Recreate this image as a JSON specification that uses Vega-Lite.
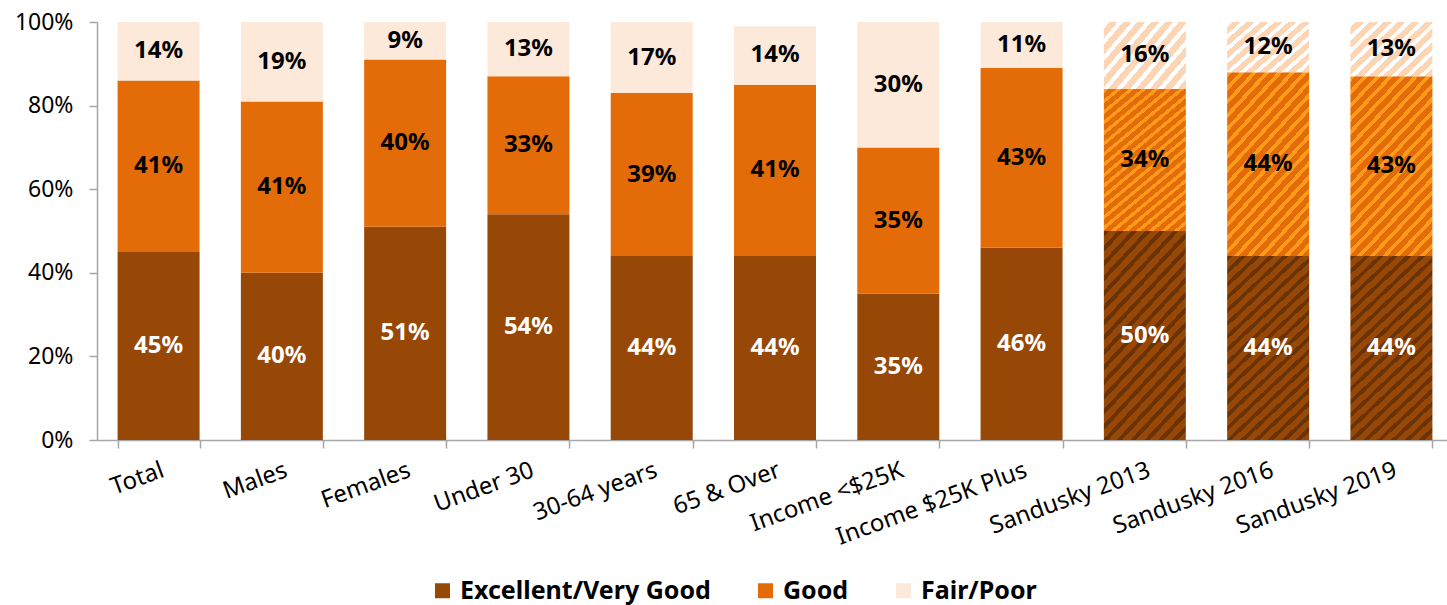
{
"$schema":"https://vega.github.io/schema/vega-lite/v6.json",
"width":1356,"height":418,
"autosize":{"type":"none"},
"padding":{"left":97,"top":22,"right":0,"bottom":165},
"background":"white",
"config":{"view":{"stroke":null},"font":"Noto Sans"},
"data":{"values":[
{"group":"Total","category":"Excellent/Very Good","value":45,"order":1},
{"group":"Total","category":"Good","value":41,"order":2},
{"group":"Total","category":"Fair/Poor","value":14,"order":3},
{"group":"Males","category":"Excellent/Very Good","value":40,"order":1},
{"group":"Males","category":"Good","value":41,"order":2},
{"group":"Males","category":"Fair/Poor","value":19,"order":3},
{"group":"Females","category":"Excellent/Very Good","value":51,"order":1},
{"group":"Females","category":"Good","value":40,"order":2},
{"group":"Females","category":"Fair/Poor","value":9,"order":3},
{"group":"Under 30","category":"Excellent/Very Good","value":54,"order":1},
{"group":"Under 30","category":"Good","value":33,"order":2},
{"group":"Under 30","category":"Fair/Poor","value":13,"order":3},
{"group":"30-64 years","category":"Excellent/Very Good","value":44,"order":1},
{"group":"30-64 years","category":"Good","value":39,"order":2},
{"group":"30-64 years","category":"Fair/Poor","value":17,"order":3},
{"group":"65 & Over","category":"Excellent/Very Good","value":44,"order":1},
{"group":"65 & Over","category":"Good","value":41,"order":2},
{"group":"65 & Over","category":"Fair/Poor","value":14,"order":3},
{"group":"Income <$25K","category":"Excellent/Very Good","value":35,"order":1},
{"group":"Income <$25K","category":"Good","value":35,"order":2},
{"group":"Income <$25K","category":"Fair/Poor","value":30,"order":3},
{"group":"Income $25K Plus","category":"Excellent/Very Good","value":46,"order":1},
{"group":"Income $25K Plus","category":"Good","value":43,"order":2},
{"group":"Income $25K Plus","category":"Fair/Poor","value":11,"order":3},
{"group":"Sandusky 2013","category":"Excellent/Very Good","value":50,"order":1},
{"group":"Sandusky 2013","category":"Good","value":34,"order":2},
{"group":"Sandusky 2013","category":"Fair/Poor","value":16,"order":3},
{"group":"Sandusky 2016","category":"Excellent/Very Good","value":44,"order":1},
{"group":"Sandusky 2016","category":"Good","value":44,"order":2},
{"group":"Sandusky 2016","category":"Fair/Poor","value":12,"order":3},
{"group":"Sandusky 2019","category":"Excellent/Very Good","value":44,"order":1},
{"group":"Sandusky 2019","category":"Good","value":43,"order":2},
{"group":"Sandusky 2019","category":"Fair/Poor","value":13,"order":3}
]},
"transform":[
{"stack":"value","groupby":["group"],"sort":[{"field":"order","order":"ascending"}],"as":["v0","v1"]},
{"calculate":"(datum.v0+datum.v1)/2","as":"mid"},
{"calculate":"datum.value + '%'","as":"label"}
],
"encoding":{
"x":{"field":"group","type":"nominal","title":null,
"sort":["Total","Males","Females","Under 30","30-64 years","65 & Over","Income <$25K","Income $25K Plus","Sandusky 2013","Sandusky 2016","Sandusky 2019"],
"scale":{"paddingInner":0.335,"paddingOuter":0.167},
"axis":{"title":null,"labelAngle":-20,"labelAlign":"right","labelBaseline":"top","labelFontSize":24,"labelColor":"black","labelPadding":10,"labelLimit":500,"labelOverlap":false,"tickBand":"extent","tickSize":8,"tickColor":"#a6a6a6","tickWidth":1.5,"domainColor":"#a6a6a6","domainWidth":1.5,"labelFont":"Noto Sans"}}
},
"layer":[
{"transform":[{"filter":"indexof(datum.group,'Sandusky')<0"}],
"mark":{"type":"bar"},
"encoding":{
"y":{"field":"v0","type":"quantitative","title":null,"scale":{"domain":[0,100],"nice":false},
"axis":{"title":null,"values":[0,20,40,60,80,100],"labelExpr":"datum.value + '%'","labelFontSize":23,"labelColor":"black","labelPadding":16,"tickSize":8,"tickColor":"#a6a6a6","tickWidth":1.5,"domainColor":"#a6a6a6","domainWidth":1.5,"grid":false,"labelFont":"Noto Sans"}},
"y2":{"field":"v1"},
"color":{"field":"category","type":"nominal",
"scale":{"domain":["Excellent/Very Good","Good","Fair/Poor"],"range":["#974706","#e36c09","#fde9d9"]},
"legend":{"orient":"none","legendX":333,"legendY":556,"direction":"horizontal","title":null,"symbolType":"square","symbolSize":225,"symbolStrokeWidth":0,"labelFontSize":25,"labelFontWeight":"bold","labelFont":"Noto Sans","labelColor":"black","labelLimit":500,"columnPadding":42,"labelOffset":5,"padding":0}}
}},
{"transform":[{"filter":"indexof(datum.group,'Sandusky')>=0 && datum.category==='Excellent/Very Good'"}],
"mark":{"type":"bar","fill":{"gradient":"linear","x1":0,"y1":0,"x2":0.507,"y2":1.207,"stops":[
{"offset":0,"color":"#6b3304"},{"offset":0.02,"color":"#6b3304"},{"offset":0.02,"color":"#974706"},{"offset":0.05,"color":"#974706"},
{"offset":0.05,"color":"#6b3304"},{"offset":0.07,"color":"#6b3304"},{"offset":0.07,"color":"#974706"},{"offset":0.1,"color":"#974706"},
{"offset":0.1,"color":"#6b3304"},{"offset":0.12,"color":"#6b3304"},{"offset":0.12,"color":"#974706"},{"offset":0.15,"color":"#974706"},
{"offset":0.15,"color":"#6b3304"},{"offset":0.17,"color":"#6b3304"},{"offset":0.17,"color":"#974706"},{"offset":0.2,"color":"#974706"},
{"offset":0.2,"color":"#6b3304"},{"offset":0.22,"color":"#6b3304"},{"offset":0.22,"color":"#974706"},{"offset":0.25,"color":"#974706"},
{"offset":0.25,"color":"#6b3304"},{"offset":0.27,"color":"#6b3304"},{"offset":0.27,"color":"#974706"},{"offset":0.3,"color":"#974706"},
{"offset":0.3,"color":"#6b3304"},{"offset":0.32,"color":"#6b3304"},{"offset":0.32,"color":"#974706"},{"offset":0.35,"color":"#974706"},
{"offset":0.35,"color":"#6b3304"},{"offset":0.37,"color":"#6b3304"},{"offset":0.37,"color":"#974706"},{"offset":0.4,"color":"#974706"},
{"offset":0.4,"color":"#6b3304"},{"offset":0.42,"color":"#6b3304"},{"offset":0.42,"color":"#974706"},{"offset":0.45,"color":"#974706"},
{"offset":0.45,"color":"#6b3304"},{"offset":0.47,"color":"#6b3304"},{"offset":0.47,"color":"#974706"},{"offset":0.5,"color":"#974706"},
{"offset":0.5,"color":"#6b3304"},{"offset":0.52,"color":"#6b3304"},{"offset":0.52,"color":"#974706"},{"offset":0.55,"color":"#974706"},
{"offset":0.55,"color":"#6b3304"},{"offset":0.57,"color":"#6b3304"},{"offset":0.57,"color":"#974706"},{"offset":0.6,"color":"#974706"},
{"offset":0.6,"color":"#6b3304"},{"offset":0.62,"color":"#6b3304"},{"offset":0.62,"color":"#974706"},{"offset":0.65,"color":"#974706"},
{"offset":0.65,"color":"#6b3304"},{"offset":0.67,"color":"#6b3304"},{"offset":0.67,"color":"#974706"},{"offset":0.7,"color":"#974706"},
{"offset":0.7,"color":"#6b3304"},{"offset":0.72,"color":"#6b3304"},{"offset":0.72,"color":"#974706"},{"offset":0.75,"color":"#974706"},
{"offset":0.75,"color":"#6b3304"},{"offset":0.77,"color":"#6b3304"},{"offset":0.77,"color":"#974706"},{"offset":0.8,"color":"#974706"},
{"offset":0.8,"color":"#6b3304"},{"offset":0.82,"color":"#6b3304"},{"offset":0.82,"color":"#974706"},{"offset":0.85,"color":"#974706"},
{"offset":0.85,"color":"#6b3304"},{"offset":0.87,"color":"#6b3304"},{"offset":0.87,"color":"#974706"},{"offset":0.9,"color":"#974706"},
{"offset":0.9,"color":"#6b3304"},{"offset":0.92,"color":"#6b3304"},{"offset":0.92,"color":"#974706"},{"offset":0.95,"color":"#974706"},
{"offset":0.95,"color":"#6b3304"},{"offset":0.97,"color":"#6b3304"},{"offset":0.97,"color":"#974706"},{"offset":1,"color":"#974706"}
]}},
"encoding":{"y":{"field":"v0","type":"quantitative","title":null,"scale":{"domain":[0,100],"nice":false},
"axis":{"title":null,"values":[0,20,40,60,80,100],"labelExpr":"datum.value + '%'","labelFontSize":23,"labelColor":"black","labelPadding":16,"tickSize":8,"tickColor":"#a6a6a6","tickWidth":1.5,"domainColor":"#a6a6a6","domainWidth":1.5,"grid":false,"labelFont":"Noto Sans"}},"y2":{"field":"v1"}}},
{"transform":[{"filter":"indexof(datum.group,'Sandusky')>=0 && datum.category==='Good'"}],
"mark":{"type":"bar","fill":{"gradient":"linear","x1":0,"y1":0,"x2":0.58,"y2":1.203,"stops":[
{"offset":0,"color":"#ff9a1a"},{"offset":0.02,"color":"#ff9a1a"},{"offset":0.02,"color":"#e36c09"},{"offset":0.05,"color":"#e36c09"},
{"offset":0.05,"color":"#ff9a1a"},{"offset":0.07,"color":"#ff9a1a"},{"offset":0.07,"color":"#e36c09"},{"offset":0.1,"color":"#e36c09"},
{"offset":0.1,"color":"#ff9a1a"},{"offset":0.12,"color":"#ff9a1a"},{"offset":0.12,"color":"#e36c09"},{"offset":0.15,"color":"#e36c09"},
{"offset":0.15,"color":"#ff9a1a"},{"offset":0.17,"color":"#ff9a1a"},{"offset":0.17,"color":"#e36c09"},{"offset":0.2,"color":"#e36c09"},
{"offset":0.2,"color":"#ff9a1a"},{"offset":0.22,"color":"#ff9a1a"},{"offset":0.22,"color":"#e36c09"},{"offset":0.25,"color":"#e36c09"},
{"offset":0.25,"color":"#ff9a1a"},{"offset":0.27,"color":"#ff9a1a"},{"offset":0.27,"color":"#e36c09"},{"offset":0.3,"color":"#e36c09"},
{"offset":0.3,"color":"#ff9a1a"},{"offset":0.32,"color":"#ff9a1a"},{"offset":0.32,"color":"#e36c09"},{"offset":0.35,"color":"#e36c09"},
{"offset":0.35,"color":"#ff9a1a"},{"offset":0.37,"color":"#ff9a1a"},{"offset":0.37,"color":"#e36c09"},{"offset":0.4,"color":"#e36c09"},
{"offset":0.4,"color":"#ff9a1a"},{"offset":0.42,"color":"#ff9a1a"},{"offset":0.42,"color":"#e36c09"},{"offset":0.45,"color":"#e36c09"},
{"offset":0.45,"color":"#ff9a1a"},{"offset":0.47,"color":"#ff9a1a"},{"offset":0.47,"color":"#e36c09"},{"offset":0.5,"color":"#e36c09"},
{"offset":0.5,"color":"#ff9a1a"},{"offset":0.52,"color":"#ff9a1a"},{"offset":0.52,"color":"#e36c09"},{"offset":0.55,"color":"#e36c09"},
{"offset":0.55,"color":"#ff9a1a"},{"offset":0.57,"color":"#ff9a1a"},{"offset":0.57,"color":"#e36c09"},{"offset":0.6,"color":"#e36c09"},
{"offset":0.6,"color":"#ff9a1a"},{"offset":0.62,"color":"#ff9a1a"},{"offset":0.62,"color":"#e36c09"},{"offset":0.65,"color":"#e36c09"},
{"offset":0.65,"color":"#ff9a1a"},{"offset":0.67,"color":"#ff9a1a"},{"offset":0.67,"color":"#e36c09"},{"offset":0.7,"color":"#e36c09"},
{"offset":0.7,"color":"#ff9a1a"},{"offset":0.72,"color":"#ff9a1a"},{"offset":0.72,"color":"#e36c09"},{"offset":0.75,"color":"#e36c09"},
{"offset":0.75,"color":"#ff9a1a"},{"offset":0.77,"color":"#ff9a1a"},{"offset":0.77,"color":"#e36c09"},{"offset":0.8,"color":"#e36c09"},
{"offset":0.8,"color":"#ff9a1a"},{"offset":0.82,"color":"#ff9a1a"},{"offset":0.82,"color":"#e36c09"},{"offset":0.85,"color":"#e36c09"},
{"offset":0.85,"color":"#ff9a1a"},{"offset":0.87,"color":"#ff9a1a"},{"offset":0.87,"color":"#e36c09"},{"offset":0.9,"color":"#e36c09"},
{"offset":0.9,"color":"#ff9a1a"},{"offset":0.92,"color":"#ff9a1a"},{"offset":0.92,"color":"#e36c09"},{"offset":0.95,"color":"#e36c09"},
{"offset":0.95,"color":"#ff9a1a"},{"offset":0.97,"color":"#ff9a1a"},{"offset":0.97,"color":"#e36c09"},{"offset":1,"color":"#e36c09"}
]}},
"encoding":{"y":{"field":"v0","type":"quantitative","title":null,"scale":{"domain":[0,100],"nice":false},
"axis":{"title":null,"values":[0,20,40,60,80,100],"labelExpr":"datum.value + '%'","labelFontSize":23,"labelColor":"black","labelPadding":16,"tickSize":8,"tickColor":"#a6a6a6","tickWidth":1.5,"domainColor":"#a6a6a6","domainWidth":1.5,"grid":false,"labelFont":"Noto Sans"}},"y2":{"field":"v1"}}},
{"transform":[{"filter":"indexof(datum.group,'Sandusky')>=0 && datum.category==='Fair/Poor'"}],
"mark":{"type":"bar","fill":{"gradient":"linear","x1":0,"y1":0,"x2":2.286,"y2":1.588,"stops":[
{"offset":0,"color":"#ffffff"},{"offset":0.02,"color":"#ffffff"},{"offset":0.02,"color":"#fcd5b4"},{"offset":0.05,"color":"#fcd5b4"},
{"offset":0.05,"color":"#ffffff"},{"offset":0.07,"color":"#ffffff"},{"offset":0.07,"color":"#fcd5b4"},{"offset":0.1,"color":"#fcd5b4"},
{"offset":0.1,"color":"#ffffff"},{"offset":0.12,"color":"#ffffff"},{"offset":0.12,"color":"#fcd5b4"},{"offset":0.15,"color":"#fcd5b4"},
{"offset":0.15,"color":"#ffffff"},{"offset":0.17,"color":"#ffffff"},{"offset":0.17,"color":"#fcd5b4"},{"offset":0.2,"color":"#fcd5b4"},
{"offset":0.2,"color":"#ffffff"},{"offset":0.22,"color":"#ffffff"},{"offset":0.22,"color":"#fcd5b4"},{"offset":0.25,"color":"#fcd5b4"},
{"offset":0.25,"color":"#ffffff"},{"offset":0.27,"color":"#ffffff"},{"offset":0.27,"color":"#fcd5b4"},{"offset":0.3,"color":"#fcd5b4"},
{"offset":0.3,"color":"#ffffff"},{"offset":0.32,"color":"#ffffff"},{"offset":0.32,"color":"#fcd5b4"},{"offset":0.35,"color":"#fcd5b4"},
{"offset":0.35,"color":"#ffffff"},{"offset":0.37,"color":"#ffffff"},{"offset":0.37,"color":"#fcd5b4"},{"offset":0.4,"color":"#fcd5b4"},
{"offset":0.4,"color":"#ffffff"},{"offset":0.42,"color":"#ffffff"},{"offset":0.42,"color":"#fcd5b4"},{"offset":0.45,"color":"#fcd5b4"},
{"offset":0.45,"color":"#ffffff"},{"offset":0.47,"color":"#ffffff"},{"offset":0.47,"color":"#fcd5b4"},{"offset":0.5,"color":"#fcd5b4"},
{"offset":0.5,"color":"#ffffff"},{"offset":0.52,"color":"#ffffff"},{"offset":0.52,"color":"#fcd5b4"},{"offset":0.55,"color":"#fcd5b4"},
{"offset":0.55,"color":"#ffffff"},{"offset":0.57,"color":"#ffffff"},{"offset":0.57,"color":"#fcd5b4"},{"offset":0.6,"color":"#fcd5b4"},
{"offset":0.6,"color":"#ffffff"},{"offset":0.62,"color":"#ffffff"},{"offset":0.62,"color":"#fcd5b4"},{"offset":0.65,"color":"#fcd5b4"},
{"offset":0.65,"color":"#ffffff"},{"offset":0.67,"color":"#ffffff"},{"offset":0.67,"color":"#fcd5b4"},{"offset":0.7,"color":"#fcd5b4"},
{"offset":0.7,"color":"#ffffff"},{"offset":0.72,"color":"#ffffff"},{"offset":0.72,"color":"#fcd5b4"},{"offset":0.75,"color":"#fcd5b4"},
{"offset":0.75,"color":"#ffffff"},{"offset":0.77,"color":"#ffffff"},{"offset":0.77,"color":"#fcd5b4"},{"offset":0.8,"color":"#fcd5b4"},
{"offset":0.8,"color":"#ffffff"},{"offset":0.82,"color":"#ffffff"},{"offset":0.82,"color":"#fcd5b4"},{"offset":0.85,"color":"#fcd5b4"},
{"offset":0.85,"color":"#ffffff"},{"offset":0.87,"color":"#ffffff"},{"offset":0.87,"color":"#fcd5b4"},{"offset":0.9,"color":"#fcd5b4"},
{"offset":0.9,"color":"#ffffff"},{"offset":0.92,"color":"#ffffff"},{"offset":0.92,"color":"#fcd5b4"},{"offset":0.95,"color":"#fcd5b4"},
{"offset":0.95,"color":"#ffffff"},{"offset":0.97,"color":"#ffffff"},{"offset":0.97,"color":"#fcd5b4"},{"offset":1,"color":"#fcd5b4"}
]}},
"encoding":{"y":{"field":"v0","type":"quantitative","title":null,"scale":{"domain":[0,100],"nice":false},
"axis":{"title":null,"values":[0,20,40,60,80,100],"labelExpr":"datum.value + '%'","labelFontSize":23,"labelColor":"black","labelPadding":16,"tickSize":8,"tickColor":"#a6a6a6","tickWidth":1.5,"domainColor":"#a6a6a6","domainWidth":1.5,"grid":false,"labelFont":"Noto Sans"}},"y2":{"field":"v1"}}},
{"mark":{"type":"text","fontSize":24,"fontWeight":"bold","font":"Noto Sans","baseline":"middle","align":"center"},
"encoding":{
"y":{"field":"mid","type":"quantitative","title":null,"scale":{"domain":[0,100],"nice":false},
"axis":{"title":null,"values":[0,20,40,60,80,100],"labelExpr":"datum.value + '%'","labelFontSize":23,"labelColor":"black","labelPadding":16,"tickSize":8,"tickColor":"#a6a6a6","tickWidth":1.5,"domainColor":"#a6a6a6","domainWidth":1.5,"grid":false,"labelFont":"Noto Sans"}},
"text":{"field":"label","type":"nominal"},
"color":{"condition":{"test":"datum.category==='Excellent/Very Good'","value":"#ffffff"},"value":"#000000"}
}}
]
}
